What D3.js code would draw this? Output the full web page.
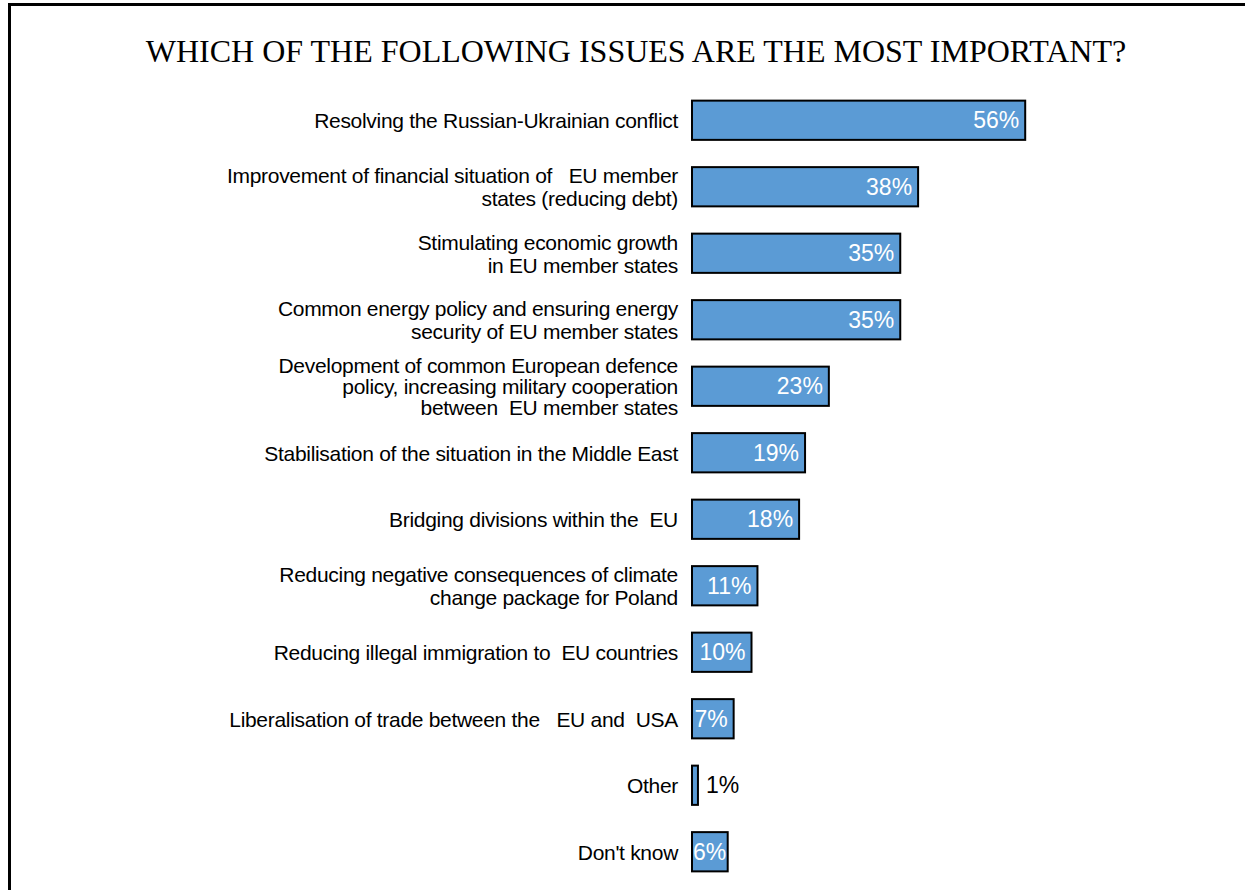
<!DOCTYPE html>
<meta charset="UTF-8">
<style>
  body { margin: 0; background: #fff; }
  .title { font: 32px "Liberation Serif", "Times New Roman", serif; fill: #000; }
  .cat { font: 21px "Liberation Sans", Arial, sans-serif; fill: #000; letter-spacing: -0.3px; }
  .val { font: 23px "Liberation Sans", Arial, sans-serif; }
  .bar { fill: #5b9bd5; stroke: #000; stroke-width: 2px; }
</style>
<body>
<script src="https://d3js.org/d3.v7.min.js"></script>
<script>

// data
var categories = [
  ["Resolving the Russian-Ukrainian conflict"],
  ["Improvement of financial situation of   EU member", "states (reducing debt)"],
  ["Stimulating economic growth", "in EU member states"],
  ["Common energy policy and ensuring energy", "security of EU member states"],
  ["Development of common European defence", "policy, increasing military cooperation", "between  EU member states"],
  ["Stabilisation of the situation in the Middle East"],
  ["Bridging divisions within the  EU"],
  ["Reducing negative consequences of climate", "change package for Poland"],
  ["Reducing illegal immigration to  EU countries"],
  ["Liberalisation of trade between the   EU and  USA"],
  ["Other"],
  ["Don't know"]
];
var values = [56, 38, 35, 35, 23, 19, 18, 11, 10, 7, 1, 6];
var title = "WHICH OF THE FOLLOWING ISSUES ARE THE MOST IMPORTANT?";

var width = 1245, height = 890;

var svg = d3.select("body").append("svg")
    .attr("width", width)
    .attr("height", height);

// frame (runs off the right and bottom edges)
svg.append("rect")
    .attr("x", 9.5).attr("y", 4.5)
    .attr("width", width + 20).attr("height", height + 20)
    .attr("fill", "none")
    .attr("stroke", "#000")
    .attr("stroke-width", 3);

svg.append("text")
    .attr("class", "title")
    .attr("x", 636)
    .attr("y", 62)
    .attr("text-anchor", "middle")
    .text(title);

var ids = d3.range(values.length);

var x = d3.scaleLinear().domain([0, 100]).range([692, 692 + 595]);
var y = d3.scaleBand().domain(ids).range([87, 885])
    .paddingInner(0.41).paddingOuter(0.205);

var rows = svg.selectAll("g.row")
    .data(ids)
  .enter().append("g")
    .attr("class", "row");

rows.append("rect")
    .attr("class", "bar")
    .attr("x", x(0))
    .attr("y", function(i) { return y(i); })
    .attr("width", function(i) { return x(values[i]) - x(0); })
    .attr("height", y.bandwidth());

// category labels, right aligned, several lines
rows.append("text")
    .attr("class", "cat")
    .attr("text-anchor", "end")
    .style("white-space", "pre")
    .each(function(i) {
      var lines = categories[i];
      var lineH = lines.length > 2 ? 21 : 23;
      var cy = y(i) + y.bandwidth() / 2;
      var top = cy - (lines.length - 1) * lineH / 2;
      var t = d3.select(this);
      lines.forEach(function(l, k) {
        t.append("tspan")
          .attr("x", 678)
          .attr("y", top + k * lineH)
          .attr("dy", "0.38em")
          .text(l);
      });
    });

// value labels
rows.append("text")
    .attr("class", "val")
    .attr("dy", "0.35em")
    .attr("y", function(i) { return y(i) + y.bandwidth() / 2; })
    .text(function(i) { return values[i] + "%"; })
    .each(function(i) {
      var t = d3.select(this);
      var w = this.getComputedTextLength();
      var end = x(values[i]);
      if (values[i] < 5) {
        t.attr("x", end + 8).attr("text-anchor", "start").attr("fill", "#000");
      } else {
        t.attr("x", Math.max(end - 6, x(0) + w + 1))
          .attr("text-anchor", "end").attr("fill", "#fff");
      }
    });

</script>
</body>
